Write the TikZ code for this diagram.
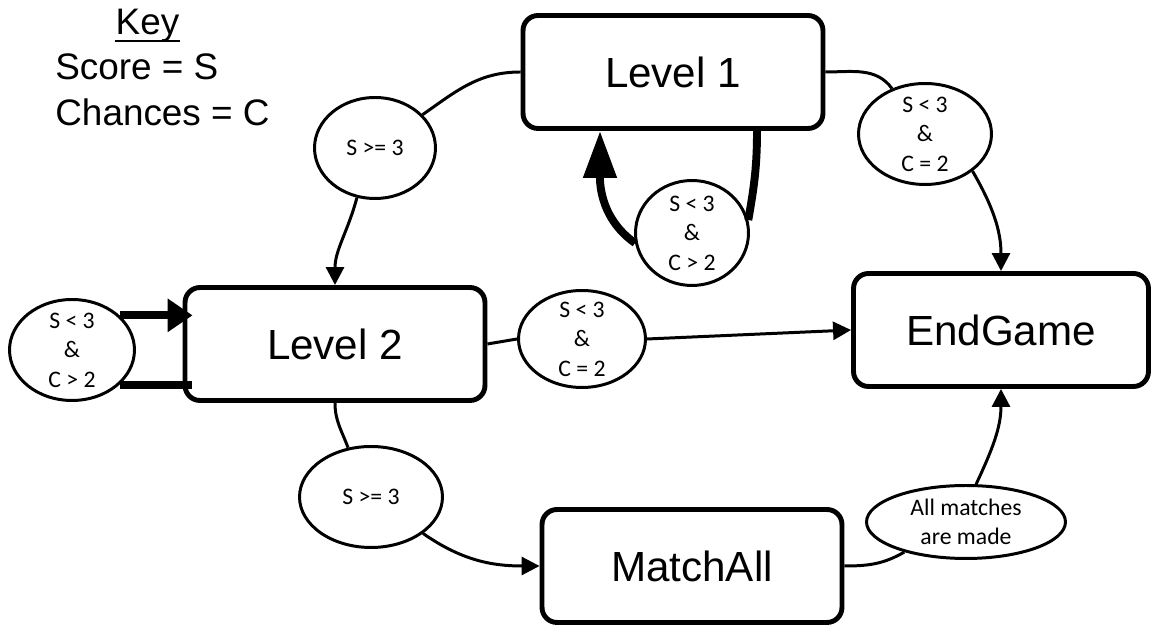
\documentclass[tikz,border=0pt]{standalone}
\usepackage{fontspec}
\setmainfont{Liberation Sans}
\newfontfamily\condfont{Carlito}
\usetikzlibrary{shapes.geometric}
\usetikzlibrary{arrows.meta}
\usetikzlibrary{calc}
\tikzset{
	state_box/.style = {
		rectangle,
		rounded corners=0.3cm,
		draw=black,
		line width=2.8pt,
		minimum width=6cm,
		minimum height=2.26cm,
		inner sep=0pt,
		font=\fontsize{24}{28}\selectfont
	},
	cond_oval/.style = {
		ellipse,
		draw=black,
		fill=white,
		line width=1.7pt,
		align=center,
		inner xsep=0pt,
		inner ysep=-8pt,
		font=\condfont\fontsize{13.5}{16.8}\selectfont
	},
	key_text/.style = {
		inner sep=0pt,
		font=\fontsize{21}{25}\selectfont
	},
	link/.style = {
		line width=1.7pt
	},
	link_arr/.style = {
		link,
		-{Triangle[length=0.36cm,width=0.36cm]}
	},
	loop_line/.style = {
		line width=4.5pt
	},
	loop_arr/.style = {
		loop_line,
		-{Triangle[length=0.94cm,width=0.64cm]}
	},
	loop_arr_short/.style = {
		loop_line,
		-{Triangle[length=0.5cm,width=0.64cm]}
	},
}

\begin{document}
\begin{tikzpicture}[x=0.02cm, y=0.02cm]
\useasboundingbox (0,0) rectangle (1154,628);

\node [key_text, anchor=base] (key) at (147.5,593) {Key};
\draw [line width=1.4pt] ($(key.base west)+(0,-6)$) -- ($(key.base east)+(0,-6)$);
\node [key_text, anchor=base west] (score) at (55,548) {Score = S};
\node [key_text, anchor=base west] (chance) at (55,502) {Chances = C};

\node [state_box] (lvl1) at (673,556) {Level 1};
\node [state_box] (lvl2) at (335,284) {Level 2};
\node [state_box, minimum width=5.9cm] (endg) at (1001,298) {EndGame};
\node [state_box] (match) at (692,62) {MatchAll};

\node [cond_oval, minimum width=2.42cm, minimum height=2.02cm] (ge1) at (375,480) {S >= 3};
\node [cond_oval, minimum width=2.26cm, minimum height=2.1cm] (loop1) at (692,395) {S < 3\\\&\\C > 2};
\node [cond_oval, minimum width=2.66cm, minimum height=2.02cm] (lt1) at (925,494) {S < 3\\\&\\C = 2};
\node [cond_oval, minimum width=2.5cm, minimum height=2.02cm] (loop2) at (72,278) {S < 3\\\&\\C > 2};
\node [cond_oval, minimum width=2.54cm, minimum height=1.94cm] (lt2) at (582,289) {S < 3\\\&\\C = 2};
\node [cond_oval, minimum width=2.86cm, minimum height=2.02cm] (ge2) at (371,131) {S >= 3};
\node [cond_oval, minimum width=3.98cm, minimum height=1.46cm] (allm) at (966,106) {All matches\\are made};

\draw [link] (lvl1.west) to[out=180,in=35] (ge1.35);
\draw [link_arr] (ge1.250) to[out=255,in=90] (lvl2.north);
\draw [link] (lvl1.east) to[out=0,in=126] (lt1.126);
\draw [link_arr] (lt1.-38) to[out=-60,in=90] (endg.north);
\draw [link] (lvl2.east) -- (lt2.west);
\draw [link_arr] (lt2.east) -- (endg.west);
\draw [link] (lvl2.south) to[out=-90,in=110] (ge2.115);
\draw [link_arr] (ge2.-35) to[out=-35,in=180] (match.west);
\draw [link] (match.east) to[out=0,in=210] (allm.206);
\draw [link_arr] (allm.75) to[out=65,in=-90] (endg.south);

\draw [loop_line] ($(lvl1.south)+(84,0)$) to[out=-90,in=80] (loop1.13);
\draw [loop_arr] (loop1.190) to[out=145,in=-90] ($(lvl1.south)+(-73,0)$);
\draw [loop_arr_short] (loop2.36) -- ($(loop2.36 -| lvl2.west)+(10,0)$);
\draw [loop_line] (loop2.-36) -- ($(loop2.-36 -| lvl2.west)+(9,0)$);
\end{tikzpicture}
\end{document}
